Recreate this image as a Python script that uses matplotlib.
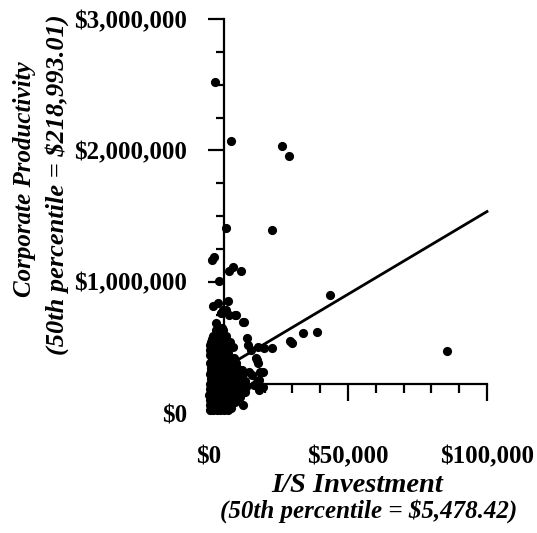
import matplotlib
matplotlib.use("Agg")
import matplotlib.pyplot as plt
from matplotlib.ticker import FuncFormatter, MultipleLocator

# Medians of the two measures (axes cross here)
x_median = 5478.42
y_median = 218993.01

# I/S investment and corporate productivity, in thousands of dollars
invest_k = [
    2.2, 7.9, 26.3, 28.8, 22.7, 6.1, 1.8, 1.1, 8.6, 7.2, 11.5, 3.6, 6.8, 1.4, 3.2,
    5.0, 6.1, 9.4, 12.2, 2.5, 4.7, 13.7, 2.2, 43.6, 33.8, 38.9, 29.2, 29.9, 22.7,
    19.8, 17.3, 17.6, 15.5, 18.4, 19.4, 12.2, 18.0, 17.3, 85.7, 14.0, 15.1, 17.6,
    16.9, 14.4, 18.0, 19.4, 16.2, 12.6, 11.9, 4.3, 7.2, 9.7,
    0.3, 1.5, 2.8, 4.0, 5.5, 7.0,
    0.9, 2.2, 3.4, 4.7, 6.2, 7.8,
    0.2, 1.2, 2.5, 3.8, 5.0, 6.5, 8.0,
    0.7, 1.9, 3.2, 4.6, 6.0, 7.5, 9.2,
    0.4, 1.6, 3.0, 4.4, 5.8, 7.2, 8.8,
    0.9, 2.3, 3.6, 5.0, 6.5, 8.0, 9.6, 11.0,
    0.1, 1.3, 2.6, 3.9, 5.3, 6.8, 8.3, 9.9,
    0.8, 2.1, 3.5, 4.9, 6.4, 7.9, 9.5, 11.2, 12.8,
    0.5, 1.8, 3.2, 4.6, 6.0, 7.5, 9.0, 10.6,
    1.0, 2.4, 3.8, 5.2, 6.7, 8.2, 9.8, 11.4, 13.2,
    0.3, 1.5, 2.9, 4.2, 5.7, 7.1, 8.6, 10.2, 12.0,
    0.9, 2.3, 3.7, 5.2, 6.6, 8.2, 9.8, 11.5, 13.0,
    0.6, 2.0, 3.4, 4.9, 6.3, 7.9, 9.4, 11.0,
    1.1, 2.6, 4.1, 5.6, 7.1, 8.7, 10.3, 12.0,
    0.2, 1.6, 3.0, 4.5, 6.0, 7.6, 9.2, 10.8,
    0.6, 2.0, 3.5, 5.0, 6.5, 8.0, 9.6, 11.3,
    0.8, 2.3, 3.8, 5.2, 6.8, 8.3, 9.9,
    1.2, 2.7, 4.2, 5.8, 7.3, 8.9,
    0.4, 1.9, 3.3, 4.8, 6.4, 8.0, 9.6,
    0.9, 2.4, 3.9, 5.4, 7.0, 8.6,
    1.0, 2.6, 4.1, 5.6, 7.2, 8.9,
    0.4, 1.9, 3.4, 5.0, 6.6,
    0.7, 2.2, 3.7, 5.3, 7.0,
    0.2, 1.8, 3.4, 5.0,
    1.2, 2.8, 4.4, 6.1, 8.5,
    0.4, 2.0, 3.6, 5.6,
    0.6, 2.9, 5.0, 7.4,
    1.2, 3.6,
    1.5, 3.8, 6.2,
    2.4, 5.1,
]
productivity_k = [
    2519, 2069, 2031, 1954, 1397, 1412, 1191, 1168, 1115, 1084, 1084, 1008, 855,
    817, 840, 786, 786, 748, 695, 687, 649, 573, 534, 901, 611, 618, 550, 534, 496,
    496, 405, 382, 290, 313, 313, 61, 176, 237, 473, 519, 481, 504, 420, 313, 252,
    198, 214, 695, 328, 763, 748, 748,
    20, 20, 20, 20, 20, 20,
    40, 40, 40, 40, 40, 40,
    60, 60, 60, 60, 60, 60, 60,
    80, 80, 80, 80, 80, 80, 80,
    100, 100, 100, 100, 100, 100, 100,
    120, 120, 120, 120, 120, 120, 120, 120,
    140, 140, 140, 140, 140, 140, 140, 140,
    160, 160, 160, 160, 160, 160, 160, 160, 160,
    180, 180, 180, 180, 180, 180, 180, 180,
    200, 200, 200, 200, 200, 200, 200, 200, 200,
    220, 220, 220, 220, 220, 220, 220, 220, 220,
    240, 240, 240, 240, 240, 240, 240, 240, 240,
    260, 260, 260, 260, 260, 260, 260, 260,
    280, 280, 280, 280, 280, 280, 280, 280,
    300, 300, 300, 300, 300, 300, 300, 300,
    320, 320, 320, 320, 320, 320, 320, 320,
    340, 340, 340, 340, 340, 340, 340,
    360, 360, 360, 360, 360, 360,
    380, 380, 380, 380, 380, 380, 380,
    400, 400, 400, 400, 400, 400,
    420, 420, 420, 420, 420, 420,
    440, 440, 440, 440, 440,
    460, 460, 460, 460, 460,
    480, 480, 480, 480,
    500, 500, 500, 500, 500,
    520, 520, 520, 520,
    540, 540, 540, 540,
    560, 560,
    590, 590, 590,
    630, 630,
]

# Fitted trend line endpoints (thousands of dollars)
fit_x_k = [0.0, 100.0]
fit_y_k = [274.0, 1534.0]

invest = [v * 1000 for v in invest_k]
productivity = [v * 1000 for v in productivity_k]
fit_x = [v * 1000 for v in fit_x_k]
fit_y = [v * 1000 for v in fit_y_k]

serif = "Liberation Serif"
plt.rcParams["font.family"] = [serif, "DejaVu Serif"]

fig = plt.figure(figsize=(5.37, 5.33), dpi=100)
ax = fig.add_axes([209 / 537, 120 / 533, 278 / 537, 394 / 533])

ax.plot(invest, productivity, "o", color="black", markersize=6.6,
        markeredgewidth=0, clip_on=False, zorder=3)
ax.plot(fit_x, fit_y, "-", color="black", linewidth=2.0, clip_on=False, zorder=3)

ax.set_xlim(0, 100000)
ax.set_ylim(0, 3000000)

for side in ("top", "right"):
    ax.spines[side].set_visible(False)
ax.spines["left"].set_position(("data", x_median))
ax.spines["bottom"].set_position(("data", y_median))
for side in ("left", "bottom"):
    ax.spines[side].set_linewidth(1.6)
    ax.spines[side].set_zorder(2.5)

money = FuncFormatter(lambda v, pos: "${:,.0f}".format(v))
ax.xaxis.set_major_locator(MultipleLocator(50000))
ax.xaxis.set_minor_locator(MultipleLocator(10000))
ax.yaxis.set_major_locator(MultipleLocator(1000000))
ax.yaxis.set_minor_locator(MultipleLocator(250000))
ax.xaxis.set_major_formatter(money)
ax.yaxis.set_major_formatter(money)

ax.tick_params(axis="y", which="major", direction="out", length=11.5, width=1.6,
               pad=15.5, labelsize=18)
ax.tick_params(axis="y", which="minor", direction="out", length=5.8, width=1.6)
ax.tick_params(axis="x", which="major", direction="out", length=12, width=1.6,
               pad=32, labelsize=18)
ax.tick_params(axis="x", which="minor", direction="out", length=6.5, width=1.6)
for lab in ax.get_xticklabels() + ax.get_yticklabels():
    lab.set_fontweight("bold")

label_kw = dict(fontweight="bold", fontstyle="italic", ha="center", va="center")
fig.text(357 / 537, 1 - 485 / 533, "I/S Investment", fontsize=20.5, **label_kw)
fig.text(369 / 537, 1 - 511 / 533, "(50th percentile = ${:,.2f})".format(x_median),
         fontsize=18, **label_kw)
fig.text(25 / 537, 1 - 179 / 533, "Corporate Productivity", rotation=90,
         fontsize=18, **label_kw)
fig.text(57 / 537, 1 - 185 / 533, "(50th percentile = ${:,.2f})".format(y_median),
         rotation=90, fontsize=19, **label_kw)

fig.savefig("out.png", dpi=100)
